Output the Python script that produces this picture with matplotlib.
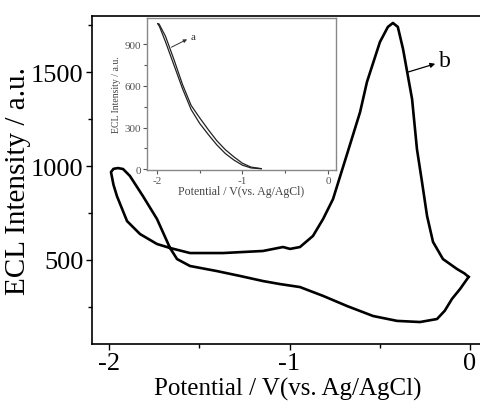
import matplotlib.pyplot as plt
import numpy as np

plt.rcParams['font.family'] = ['Liberation Serif', 'DejaVu Serif']

# main CV-ECL loop (potential / V, intensity / a.u.)
pot = [-0.008, -0.055, -0.100, -0.140, -0.183, -0.277, -0.404, -0.537, -0.681, -0.814,
       -0.942, -1.053, -1.147, -1.274, -1.402, -1.551, -1.623, -1.662, -1.734, -1.812,
       -1.884, -1.922, -1.950, -1.975, -1.989, -1.975, -1.956, -1.900, -1.828, -1.734,
       -1.662, -1.551, -1.368, -1.147, -1.036, -0.997, -0.942, -0.870, -0.814, -0.759,
       -0.681, -0.609, -0.571, -0.499, -0.455, -0.427, -0.400, -0.371, -0.321, -0.294,
       -0.266, -0.238, -0.205, -0.150, -0.072, -0.030, -0.008]
ecl = [410, 346, 293, 230, 186, 170, 176, 202, 255, 309,
       356, 372, 388, 415, 441, 468, 505, 564, 718, 840,
       947, 984, 989, 985, 968, 900, 840, 707, 638, 585,
       564, 537, 537, 548, 569, 559, 569, 628, 718, 824,
       1064, 1287, 1447, 1660, 1740, 1761, 1740, 1622, 1356, 1090,
       915, 734, 596, 505, 452, 428, 410]

# inset loop (two sweeps)
pot_a1 = [-0.78, -0.9, -1.0, -1.1, -1.2, -1.3, -1.4, -1.5, -1.6, -1.7, -1.8, -1.9, -1.97, -1.99]
ecl_a1 = [2, 8, 28, 65, 112, 175, 250, 330, 430, 580, 750, 920, 1030, 1050]
pot_a2 = [-1.99, -1.975, -1.9, -1.8, -1.7, -1.6, -1.5, -1.4, -1.3, -1.2, -1.1, -1.0, -0.9, -0.78]
ecl_a2 = [1050, 1048, 960, 790, 610, 460, 370, 285, 205, 140, 88, 42, 14, 3]

fig = plt.figure(figsize=(4.8, 4.06), dpi=100)
ax = fig.add_axes([0.1917, 0.1502, 0.8146, 0.8079])
ax.plot(pot, ecl, color='black', lw=1.9, solid_joinstyle='round')
ax.set_xlim(-2.094, 0.072)
ax.set_ylim(53, 1798)
ax.set_xticks([-2, -1, 0])
ax.set_xticklabels(['-2', '-1', '0'])
ax.set_xticks([-1.5, -0.5], minor=True)
ax.set_yticks([500, 1000, 1500])
ax.set_yticks([250, 750, 1250, 1750], minor=True)
ax.tick_params(which='major', direction='out', length=4, width=1, labelsize=19, pad=2)
ax.tick_params(which='minor', direction='out', length=3, width=1)
for s in ax.spines.values():
    s.set_linewidth(1.2)
ax.set_xlabel('Potential / V(vs. Ag/AgCl)', fontsize=18, labelpad=2)
ax.set_ylabel('ECL Intensity / a.u.', fontsize=21, va='center')
ax.yaxis.set_label_coords(-0.19, 0.5)
ax.annotate('b', xy=(-0.343, 1500), xytext=(-0.17, 1560), fontsize=17,
            va='center', ha='left',
            arrowprops=dict(arrowstyle='<|-', color='black', lw=0.9, mutation_scale=7,
                            shrinkA=1, shrinkB=0))

ins = fig.add_axes([0.306, 0.5788, 0.394, 0.3744])
ins.plot(pot_a1, ecl_a1, color='#222222', lw=0.9)
ins.plot(pot_a2, ecl_a2, color='#222222', lw=0.9)
ins.set_xlim(-2.117, 0.094)
ins.set_ylim(-7, 1091)
ins.set_xticks([-2, -1, 0])
ins.set_xticklabels(['-2', '-1', '0'])
ins.set_xticks([-1.5, -0.5], minor=True)
ins.set_yticks([0, 300, 600, 900])
ins.set_yticks([150, 450, 750], minor=True)
ins.tick_params(which='major', direction='out', length=3, width=0.8, labelsize=8,
                pad=1.5, colors='#555555')
ins.tick_params(which='minor', direction='out', length=2, width=0.8, colors='#555555')
for s in ins.spines.values():
    s.set_linewidth(1.0)
    s.set_color('#888888')
ins.set_xlabel('Potential / V(vs. Ag/AgCl)', fontsize=8.5, color='#444444', labelpad=0)
ins.set_ylabel('ECL Intensity / a.u.', fontsize=7, color='#444444', labelpad=2)
ins.annotate('a', xy=(-1.83, 880), xytext=(-1.6, 960), fontsize=8, color='#333333',
             va='center', ha='left',
             arrowprops=dict(arrowstyle='<|-', color='#333333', lw=0.7, mutation_scale=5,
                             shrinkA=1, shrinkB=0))

fig.savefig('out.png', dpi=100)
